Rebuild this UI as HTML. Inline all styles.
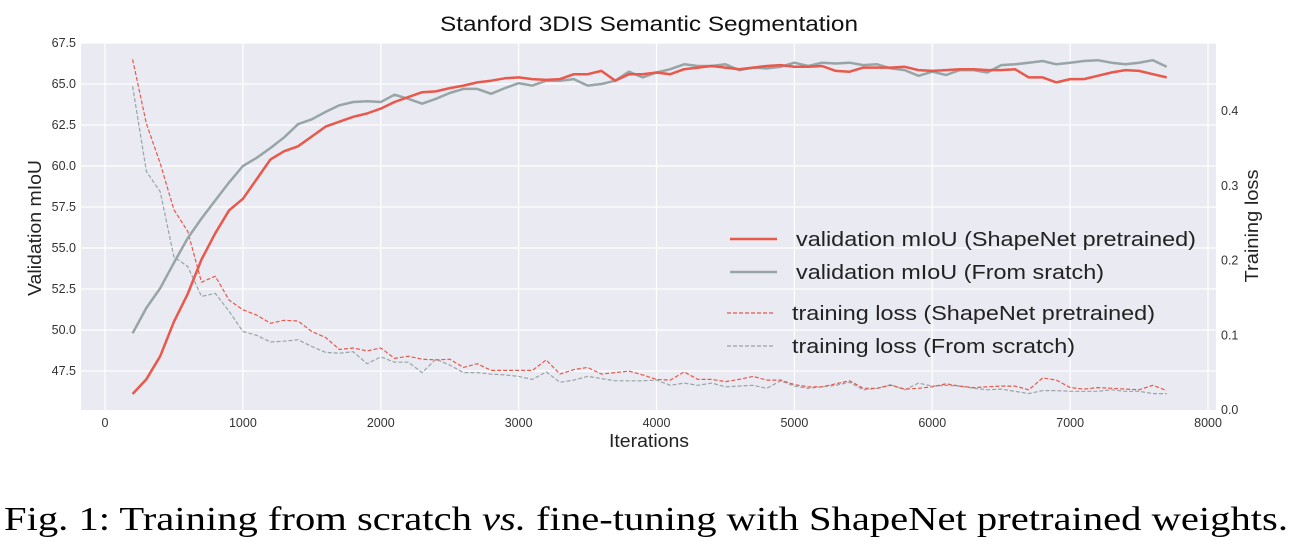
<!DOCTYPE html>
<html><head><meta charset="utf-8"><style>
body{margin:0;background:#fff;}
svg{display:block;font-family:"Liberation Sans",sans-serif;}
</style></head><body>
<svg id="chart" width="1305" height="548">
<text x="649" y="31" text-anchor="middle" font-size="21" fill="#111" textLength="418" lengthAdjust="spacingAndGlyphs">Stanford 3DIS Semantic Segmentation</text>
<rect x="81" y="43" width="1135" height="367" fill="#eaeaf2"/>
<g id="grid"></g>
<g id="series"></g>
<g id="ticks"></g>
<text x="649" y="447" text-anchor="middle" font-size="18" fill="#222" textLength="80" lengthAdjust="spacingAndGlyphs">Iterations</text>
<text transform="translate(41,228) rotate(-90)" text-anchor="middle" font-size="18" fill="#222" textLength="136" lengthAdjust="spacingAndGlyphs">Validation mIoU</text>
<text transform="translate(1258,226) rotate(-90)" text-anchor="middle" font-size="18" fill="#222" textLength="113" lengthAdjust="spacingAndGlyphs">Training loss</text>
<g>
<line x1="730" y1="239" x2="777" y2="239" stroke="#e8584b" stroke-width="2.5"/>
<text x="796" y="246" font-size="20" fill="#222" textLength="400" lengthAdjust="spacingAndGlyphs">validation mIoU (ShapeNet pretrained)</text>
<line x1="730" y1="272" x2="777" y2="272" stroke="#98a5a6" stroke-width="2.5"/>
<text x="796" y="279" font-size="20" fill="#222" textLength="308" lengthAdjust="spacingAndGlyphs">validation mIoU (From sratch)</text>
<line x1="727" y1="313" x2="775" y2="313" stroke="#e8584b" stroke-width="1.2" stroke-dasharray="4,2"/>
<text x="792" y="320" font-size="20" fill="#222" textLength="363" lengthAdjust="spacingAndGlyphs">training loss (ShapeNet pretrained)</text>
<line x1="727" y1="346" x2="775" y2="346" stroke="#98a5a6" stroke-width="1.2" stroke-dasharray="4,2"/>
<text x="792" y="353" font-size="20" fill="#222" textLength="283" lengthAdjust="spacingAndGlyphs">training loss (From scratch)</text>
</g>
<text x="4" y="530" font-family="Liberation Serif,serif" font-size="34" fill="#000" textLength="1284" lengthAdjust="spacingAndGlyphs">Fig. 1:  Training from scratch <tspan font-style="italic">vs.</tspan> fine-tuning with ShapeNet pretrained weights.</text>
</svg>
<script>
const iters=[];for(let i=200;i<=7700;i+=100)iters.push(i);
const miouPre=[46.1,47.0,48.4,50.5,52.2,54.3,55.9,57.3,58.0,59.2,60.4,60.9,61.2,61.8,62.4,62.7,63.0,63.2,63.5,63.9,64.2,64.5,64.55,64.75,64.9,65.1,65.2,65.35,65.4,65.3,65.25,65.3,65.6,65.6,65.8,65.2,65.6,65.6,65.7,65.6,65.9,66.0,66.1,66.0,65.9,66.0,66.1,66.15,66.05,66.05,66.1,65.8,65.75,66.0,66.0,66.0,66.05,65.85,65.8,65.85,65.9,65.9,65.85,65.85,65.9,65.4,65.4,65.1,65.3,65.3,65.5,65.7,65.85,65.8,65.6,65.4];
const miouScr=[49.8,51.35,52.55,54.1,55.6,56.8,57.9,59.0,60.0,60.5,61.1,61.75,62.55,62.85,63.3,63.7,63.9,63.95,63.9,64.35,64.1,63.8,64.1,64.45,64.7,64.7,64.4,64.75,65.05,64.9,65.2,65.2,65.3,64.9,65.0,65.2,65.75,65.4,65.7,65.9,66.2,66.1,66.1,66.2,65.85,66.0,65.95,66.05,66.3,66.1,66.3,66.25,66.3,66.15,66.2,65.95,65.85,65.5,65.75,65.55,65.85,65.85,65.7,66.15,66.2,66.3,66.4,66.2,66.3,66.4,66.45,66.3,66.2,66.3,66.45,66.05];
const lossPre=[0.469,0.383,0.330,0.268,0.239,0.171,0.179,0.147,0.134,0.127,0.116,0.120,0.119,0.105,0.097,0.081,0.083,0.079,0.083,0.069,0.072,0.068,0.067,0.068,0.057,0.062,0.053,0.053,0.053,0.053,0.067,0.048,0.054,0.057,0.048,0.050,0.052,0.047,0.041,0.040,0.051,0.041,0.041,0.038,0.041,0.045,0.040,0.040,0.034,0.031,0.031,0.035,0.039,0.029,0.029,0.033,0.028,0.029,0.031,0.035,0.032,0.030,0.031,0.032,0.032,0.027,0.043,0.040,0.030,0.028,0.030,0.029,0.028,0.027,0.033,0.026];
const lossScr=[0.433,0.319,0.292,0.205,0.192,0.152,0.156,0.132,0.105,0.100,0.091,0.092,0.094,0.085,0.077,0.076,0.078,0.062,0.071,0.064,0.064,0.050,0.068,0.060,0.050,0.050,0.048,0.047,0.045,0.041,0.051,0.037,0.040,0.045,0.042,0.039,0.039,0.039,0.040,0.033,0.036,0.033,0.036,0.031,0.032,0.033,0.029,0.039,0.032,0.029,0.031,0.033,0.037,0.027,0.029,0.034,0.027,0.036,0.032,0.033,0.032,0.029,0.027,0.028,0.025,0.022,0.026,0.026,0.025,0.025,0.025,0.027,0.025,0.025,0.022,0.022];
const xTicks=[0,1000,2000,3000,4000,5000,6000,7000,8000];
const yTicks=[47.5,50.0,52.5,55.0,57.5,60.0,62.5,65.0,67.5];
const y2Ticks=[0.0,0.1,0.2,0.3,0.4];

const X=v=>105+v*0.13788;
const Y=v=>43+(67.5-v)*(41/2.5);
const Y2=v=>410-v*747.5;
const NS="http://www.w3.org/2000/svg";
function mk(tag,attrs,parent){const e=document.createElementNS(NS,tag);for(const k in attrs)e.setAttribute(k,attrs[k]);parent.appendChild(e);return e;}
const grid=document.getElementById('grid'),ticks=document.getElementById('ticks'),series=document.getElementById('series');
xTicks.forEach(t=>{
 const l=mk('line',{x1:X(t),x2:X(t),y1:43,y2:410,stroke:'#fff','stroke-width':1.2},grid);
 
 
 const tx=mk('text',{x:X(t),y:427,'text-anchor':'middle','font-size':12.5,fill:'#333'},ticks);
 tx.textContent=t;
 
 
});
yTicks.forEach(t=>{
 const l=mk('line',{x1:81,x2:1216,y1:Y(t),y2:Y(t),stroke:'#fff','stroke-width':1.2},grid);
 
 
 const tx=mk('text',{x:76,y:Y(t)+4,'text-anchor':'end','font-size':12.5,fill:'#333'},ticks);
 tx.textContent=t.toFixed(1);
 
 
});
y2Ticks.forEach(t=>{
 const tx=mk('text',{x:1221,y:Y2(t)+4,'font-size':12.5,fill:'#333'},ticks);
 tx.textContent=t.toFixed(1);
 
 
});
function line(vals,yf,color,w,dash,name){
 const pts=vals.map((v,i)=>X(iters[i]).toFixed(1)+','+yf(v).toFixed(1)).join(' ');
 const p=mk('polyline',{points:pts,fill:'none',stroke:color,'stroke-width':w,'stroke-linejoin':'round'},series);
 if(dash)p.setAttribute('stroke-dasharray',dash);
 
 
}
line(lossScr,Y2,'#98a5a6',1.2,'4,2','loss-scratch-line');
line(lossPre,Y2,'#e8584b',1.2,'4,2','loss-pretrained-line');
line(miouScr,Y,'#98a5a6',2.5,null,'miou-scratch-line');
line(miouPre,Y,'#e8584b',2.5,null,'miou-pretrained-line');
</script>
</body></html>
